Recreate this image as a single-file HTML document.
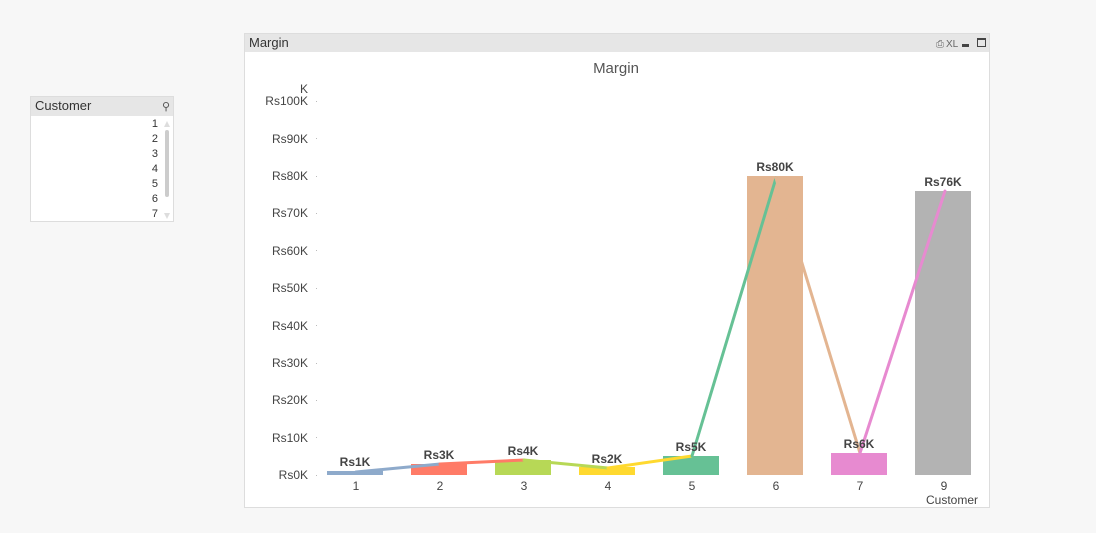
<!DOCTYPE html>
<html><head><meta charset="utf-8"><style>
body{margin:0;width:1096px;height:528px;background:#f7f7f7;overflow:hidden;font-family:"Liberation Sans",sans-serif}
</style></head><body>
<svg width="1096" height="528" xmlns="http://www.w3.org/2000/svg" font-family="Liberation Sans, sans-serif">
<!-- listbox -->
<rect x="30.5" y="96.5" width="143" height="125" fill="#fff" stroke="#ddd"/>
<rect x="31" y="97" width="142" height="19" fill="#e6e6e6"/>
<text x="35" y="110" font-size="13" fill="#333">Customer</text>
<text x="166" y="110" font-size="11" fill="#555" text-anchor="middle">⚲</text>
<g font-size="11" fill="#333" text-anchor="end">
<text x="158" y="127">1</text><text x="158" y="142">2</text><text x="158" y="157">3</text><text x="158" y="172">4</text><text x="158" y="187">5</text><text x="158" y="202">6</text><text x="158" y="217">7</text>
</g>
<polygon points="164,127 170,127 167,121" fill="#ddd"/>
<rect x="165" y="130" width="4" height="67" rx="2" fill="#ccc"/>
<polygon points="164,213 170,213 167,219" fill="#ddd"/>
<!-- chart frame -->
<rect x="244.5" y="33.5" width="745" height="474" fill="#fff" stroke="#ddd"/>
<rect x="245" y="34" width="744" height="18" fill="#e6e6e6"/>
<text x="249" y="47" font-size="13" fill="#333">Margin</text>
<text x="936" y="47" font-size="10" fill="#666">⎙</text>
<text x="946" y="47" font-size="10" fill="#666">XL</text>
<rect x="962" y="44" width="7" height="3" fill="#444"/>
<rect x="977.5" y="38.5" width="8" height="8" fill="none" stroke="#444"/>
<rect x="977" y="38" width="9" height="2" fill="#444"/>
<text x="616" y="73" font-size="15" fill="#555" text-anchor="middle">Margin</text>
<text x="308" y="93" font-size="12" fill="#444" text-anchor="end">K</text>
<g font-size="12" fill="#444" text-anchor="end">
<text x="308" y="105">Rs100K</text><text x="308" y="143">Rs90K</text><text x="308" y="180">Rs80K</text><text x="308" y="217">Rs70K</text><text x="308" y="255">Rs60K</text><text x="308" y="292">Rs50K</text><text x="308" y="330">Rs40K</text><text x="308" y="367">Rs30K</text><text x="308" y="404">Rs20K</text><text x="308" y="442">Rs10K</text><text x="308" y="479">Rs0K</text>
</g>
<g fill="#bbb"><rect x="316" y="101" width="1" height="1"/><rect x="316" y="138" width="1" height="1"/><rect x="316" y="176" width="1" height="1"/><rect x="316" y="213" width="1" height="1"/><rect x="316" y="250" width="1" height="1"/><rect x="316" y="288" width="1" height="1"/><rect x="316" y="325" width="1" height="1"/><rect x="316" y="363" width="1" height="1"/><rect x="316" y="400" width="1" height="1"/><rect x="316" y="437" width="1" height="1"/><rect x="316" y="475" width="1" height="1"/></g>
<!-- bars -->
<rect x="327" y="471" width="56" height="4" fill="#8eaacb"/>
<rect x="411" y="464" width="56" height="11" fill="#ff7b67"/>
<rect x="495" y="460" width="56" height="15" fill="#b7d856"/>
<rect x="579" y="467" width="56" height="8" fill="#ffd92f"/>
<rect x="663" y="456" width="56" height="19" fill="#66c195"/>
<rect x="747" y="176" width="56" height="299" fill="#e3b591"/>
<rect x="831" y="453" width="56" height="22" fill="#e78ad0"/>
<rect x="915" y="191" width="56" height="284" fill="#b3b3b3"/>
<!-- line -->
<g stroke-width="3" fill="none" stroke-linecap="round">
<line x1="356" y1="472" x2="440" y2="464" stroke="#8eaacb"/>
<line x1="440" y1="464" x2="524" y2="460" stroke="#ff7b67"/>
<line x1="524" y1="460" x2="608" y2="468" stroke="#b7d856"/>
<line x1="608" y1="468" x2="692" y2="456" stroke="#ffd92f"/>
<line x1="692" y1="456" x2="776" y2="178" stroke="#66c195"/>
<line x1="776" y1="178" x2="860" y2="453" stroke="#e3b591"/>
<line x1="860" y1="453" x2="945" y2="191" stroke="#e78ad0"/>
</g>
<g font-size="12" font-weight="bold" fill="#444" text-anchor="middle">
<text x="355" y="466">Rs1K</text><text x="439" y="459">Rs3K</text><text x="523" y="455">Rs4K</text><text x="607" y="463">Rs2K</text><text x="691" y="451">Rs5K</text><text x="775" y="171">Rs80K</text><text x="859" y="448">Rs6K</text><text x="943" y="186">Rs76K</text>
</g>
<g font-size="12" fill="#444" text-anchor="middle">
<text x="356" y="490">1</text><text x="440" y="490">2</text><text x="524" y="490">3</text><text x="608" y="490">4</text><text x="692" y="490">5</text><text x="776" y="490">6</text><text x="860" y="490">7</text><text x="944" y="490">9</text>
</g>
<text x="978" y="504" font-size="12" fill="#444" text-anchor="end">Customer</text>
</svg>
</body></html>
